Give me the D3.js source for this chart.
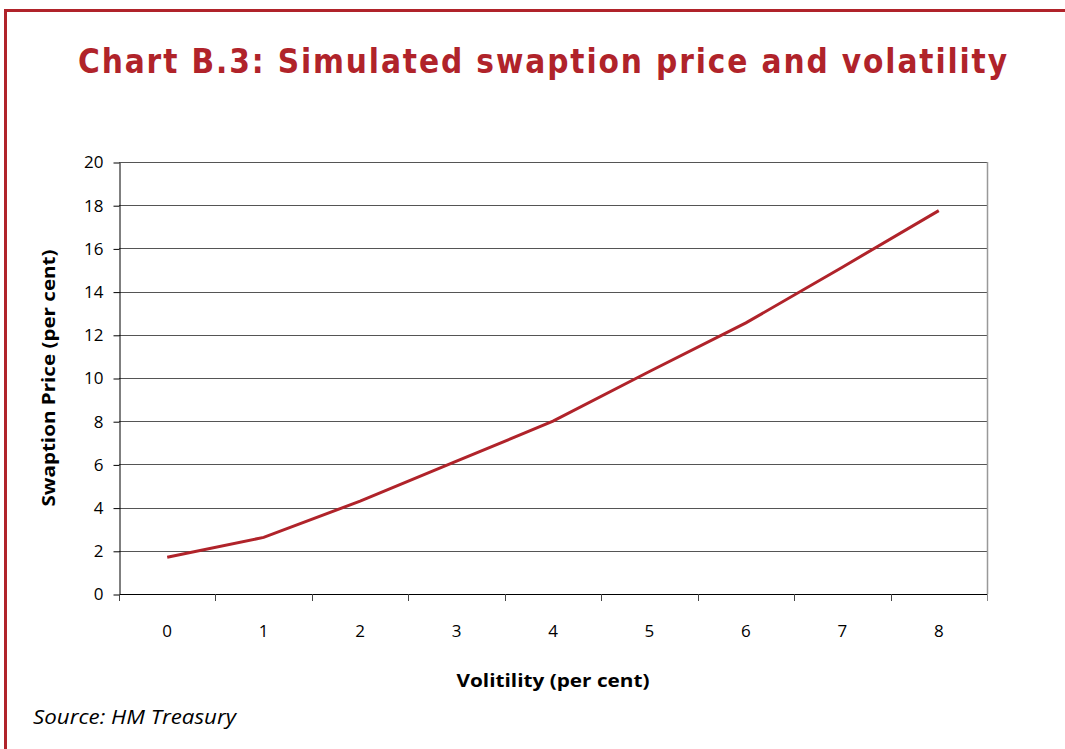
<!DOCTYPE html>
<html>
<head>
<meta charset="utf-8">
<script src="https://cdn.jsdelivr.net/npm/d3@7"></script>
<style>
    body { margin: 0; background: #fff; }
    text { font-family: "Open Sans", Lato, sans-serif; font-variant-ligatures: none; }
</style>
</head>
<body>
<div id="chart"></div>
<script>
var categories = ['0', '1', '2', '3', '4', '5', '6', '7', '8'];
var prices = [1.7, 2.62, 4.3, 6.15, 8.0, 10.3, 12.55, 15.13, 17.75];
var yTicks = [0, 2, 4, 6, 8, 10, 12, 14, 16, 18, 20];

var width = 1065;
var height = 749;
var red = '#b0232a';

var plotLeft = 119, plotRight = 987, plotTop = 162, plotBottom = 594;

var svg = d3.select('#chart')
    .append('svg')
    .attr('width', width)
    .attr('height', height);

// frame
svg.append('rect')
    .attr('x', 5.5)
    .attr('y', 10.5)
    .attr('width', 1100)
    .attr('height', 800)
    .attr('fill', 'none')
    .attr('stroke', red)
    .attr('stroke-width', 3);

svg.append('text')
    .attr('x', 78)
    .attr('y', 73)
    .attr('textLength', 929)
    .attr('lengthAdjust', 'spacing')
    .style('font-family', '"DejaVu Sans Condensed", "DejaVu Sans", sans-serif')
    .style('font-stretch', 'condensed')
    .style('font-size', '33px')
    .style('font-weight', 'bold')
    .attr('fill', red)
    .text('Chart B.3: Simulated swaption price and volatility');

var xScale = d3.scaleBand()
    .domain(categories)
    .range([plotLeft, plotRight]);

var yScale = d3.scaleLinear()
    .domain([0, 20])
    .range([plotBottom, plotTop]);

// gridlines
svg.append('g')
    .selectAll('line')
    .data(yTicks.slice(1))
    .enter()
    .append('line')
    .attr('x1', plotLeft)
    .attr('x2', plotRight)
    .attr('y1', function (d) { return Math.round(yScale(d)) + 0.5; })
    .attr('y2', function (d) { return Math.round(yScale(d)) + 0.5; })
    .attr('stroke', '#555')
    .attr('stroke-width', 1);

// right edge of plot area
svg.append('line')
    .attr('x1', plotRight + 0.5)
    .attr('x2', plotRight + 0.5)
    .attr('y1', plotTop)
    .attr('y2', plotBottom)
    .attr('stroke', '#999')
    .attr('stroke-width', 1.5);

var yAxis = d3.axisLeft(yScale)
    .tickValues(yTicks)
    .tickSize(6)
    .tickPadding(10)
    .tickSizeOuter(0);

var gy = svg.append('g')
    .attr('transform', 'translate(' + (plotLeft + 0.5) + ', 0.5)')
    .call(yAxis);
gy.selectAll('text').style('font-size', '17px').attr('fill', '#000');
gy.selectAll('line, path').attr('stroke', '#000');

// x axis: labels centred in bands, ticks on band edges
var xAxis = d3.axisBottom(xScale)
    .tickSize(0)
    .tickPadding(30);

var gx = svg.append('g')
    .attr('transform', 'translate(0, ' + (plotBottom + 0.5) + ')')
    .call(xAxis);
gx.select('path').attr('stroke', '#000').attr('d', 'M' + plotLeft + ',0H' + plotRight);
gx.selectAll('text').style('font-size', '17px').attr('fill', '#000');

var edges = categories.map(function (d) { return xScale(d); }).concat([plotRight]);
svg.append('g')
    .selectAll('line')
    .data(edges)
    .enter()
    .append('line')
    .attr('x1', function (d) { return Math.round(d) + 0.5; })
    .attr('x2', function (d) { return Math.round(d) + 0.5; })
    .attr('y1', plotBottom)
    .attr('y2', plotBottom + 7)
    .attr('stroke', function (d, i) { return i === edges.length - 1 ? '#888' : '#444'; });

// series
var line = d3.line()
    .x(function (d, i) { return xScale(categories[i]) + xScale.bandwidth() / 2; })
    .y(function (d) { return yScale(d); });

svg.append('path')
    .datum(prices)
    .attr('d', line)
    .attr('fill', 'none')
    .attr('stroke', red)
    .attr('stroke-width', 3);

svg.append('text')
    .attr('transform', 'rotate(-90)')
    .attr('x', -378)
    .attr('y', 55)
    .attr('textLength', 257)
    .attr('lengthAdjust', 'spacingAndGlyphs')
    .style('text-anchor', 'middle')
    .style('font-size', '18px')
    .style('font-weight', 'bold')
    .text('Swaption Price (per cent)');

svg.append('text')
    .attr('x', 553)
    .attr('y', 687)
    .attr('textLength', 193)
    .attr('lengthAdjust', 'spacingAndGlyphs')
    .style('text-anchor', 'middle')
    .style('font-size', '18px')
    .style('font-weight', 'bold')
    .text('Volitility (per cent)');

svg.append('text')
    .attr('x', 33)
    .attr('y', 724)
    .attr('textLength', 203)
    .attr('lengthAdjust', 'spacingAndGlyphs')
    .style('font-size', '20px')
    .style('font-style', 'italic')
    .text('Source: HM Treasury');
</script>
</body>
</html>
